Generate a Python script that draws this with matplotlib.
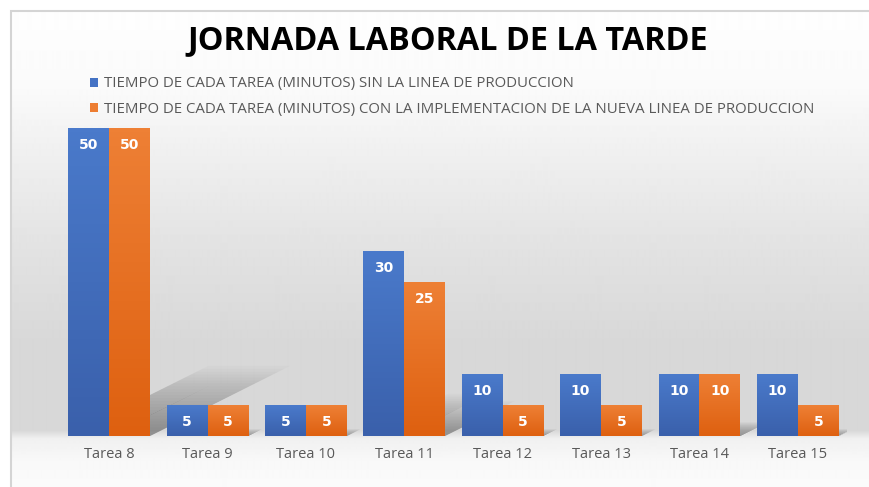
import numpy as np
import matplotlib
matplotlib.use("Agg")
import matplotlib.pyplot as plt
from matplotlib.colors import LinearSegmentedColormap
from matplotlib.patches import Polygon, Rectangle, Patch

tareas = ["Tarea 8", "Tarea 9", "Tarea 10", "Tarea 11", "Tarea 12", "Tarea 13", "Tarea 14", "Tarea 15"]
sin_linea = [50, 5, 5, 30, 10, 10, 10, 10]
con_linea = [50, 5, 5, 25, 5, 5, 10, 5]
series_names = [
    "TIEMPO DE CADA TAREA (MINUTOS) SIN LA LINEA DE PRODUCCION",
    "TIEMPO DE CADA TAREA (MINUTOS) CON LA IMPLEMENTACION DE LA NUEVA LINEA DE PRODUCCION",
]

W, H = 869, 487
fig = plt.figure(figsize=(W / 100, H / 100), dpi=100)
fig.patch.set_facecolor("white")
plt.rcParams["font.family"] = ["Open Sans", "DejaVu Sans"]

# grey backdrop of the chart area
bg = fig.add_axes([11 / W, 0, 1 - 11 / W, 1 - 11 / H])
bg.set_axis_off()
rows = np.arange(11, H)
stops_y = [11, 90, 150, 250, 340, 430, 438, 460, 487]
stops_v = [254, 250, 240, 226, 216, 216, 240, 248, 251]
shade = np.interp(rows, stops_y, stops_v) / 255.0
bg.imshow(np.repeat(shade[:, None], 2, axis=1), cmap="gray", vmin=0, vmax=1,
          aspect="auto", extent=[0, 1, 0, 1], interpolation="bilinear")
bg.set_xlim(0, 1)
bg.set_ylim(0, 1)
fig.patches.append(Rectangle((11 / W, -0.01), 1.2, 1 - 11 / H + 0.01, transform=fig.transFigure,
                             fill=False, edgecolor="#d4d4d4", linewidth=1.5))

ax = fig.add_axes([60 / W, (H - 436) / H, (847 - 60) / W, (436 - 128) / H])
ax.set_facecolor("none")
x = np.arange(len(tareas))
width = 0.416
blue_bars = ax.bar(x - width / 2, sin_linea, width, color="#4472c4", zorder=3)
orange_bars = ax.bar(x + width / 2, con_linea, width, color="#ed7d31", zorder=3)

blue_cmap = LinearSegmentedColormap.from_list("b", ["#3a60ab", "#4a7acb"])
orange_cmap = LinearSegmentedColormap.from_list("o", ["#de6010", "#ee8035"])
grad = np.linspace(0, 1, 64)[:, None]

nlayers = 24
for bars, cmap in [(blue_bars, blue_cmap), (orange_bars, orange_cmap)]:
    for b in bars:
        x0, w, h = b.get_x(), b.get_width(), b.get_height()
        im = ax.imshow(grad, cmap=cmap, origin="lower", aspect="auto",
                       extent=[x0, x0 + w, 0, h], zorder=4)
        im.set_clip_path(b)
        # soft floor shadow thrown up and to the right
        sx, sy = 0.0285 * h, 0.228 * h
        for k in range(1, nlayers + 1):
            f = k / nlayers
            ax.add_patch(Polygon([(x0, 0), (x0 + w, 0), (x0 + w + sx * f, sy * f), (x0 + sx * f, sy * f)],
                                 closed=True, facecolor="black", edgecolor="none",
                                 alpha=0.016, zorder=2))
        ax.annotate(f"{h:g}", (x0 + w / 2, h), xytext=(0, -12), textcoords="offset points",
                    ha="center", va="center", color="white", fontsize=10, fontweight="bold",
                    family="DejaVu Sans", zorder=6)

ax.set_xlim(-0.5, len(tareas) - 0.5)
ax.set_ylim(0, 50)
ax.set_xticks(x)
ax.set_xticklabels(tareas, color="#595959", fontsize=10.5)
ax.tick_params(axis="x", length=0, pad=8)
ax.set_yticks([])
for s in ax.spines.values():
    s.set_visible(False)

fig.text(448 / W, 1 - 41 / H, "JORNADA LABORAL DE LA TARDE", ha="center", va="center",
         fontsize=23.3, fontweight="bold", color="black")

handles = [Patch(facecolor="#4472c4"), Patch(facecolor="#ed7d31")]
fig.legend(handles, series_names, loc="upper left", bbox_to_anchor=(76 / W, 1 - 63 / H),
           frameon=False, handlelength=0.55, handleheight=0.55, handletextpad=0.4,
           labelspacing=0.68, labelcolor="#595959", prop={"size": 10.8})

fig.savefig("out.png", dpi=100)
